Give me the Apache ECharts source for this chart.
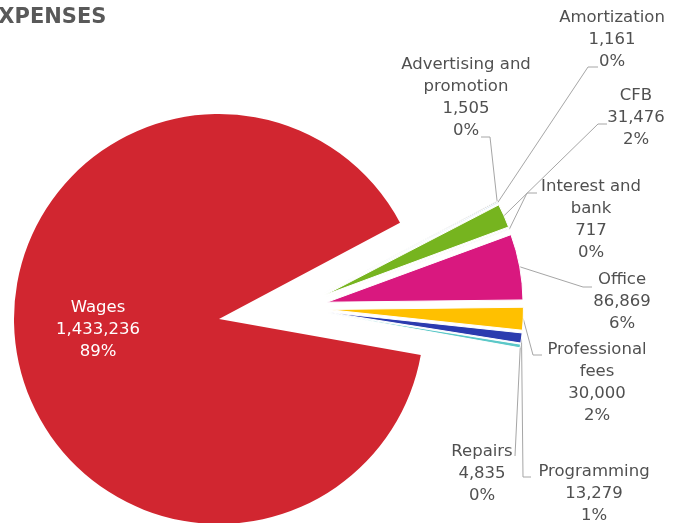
<!DOCTYPE html>
<html>
<head>
<meta charset="utf-8">
<script src="https://cdn.jsdelivr.net/npm/echarts@6/dist/echarts.min.js"></script>
<style>
html,body{margin:0;padding:0;background:#fff;}
#c{width:681px;height:523px;}
</style>
</head>
<body>
<div id="c"></div>
<script>
// ---- data ----
const categories = ['Advertising and promotion','Amortization','CFB','Interest and bank','Office','Professional fees','Programming','Repairs','Wages'];
const values = [1505, 1161, 31476, 717, 86869, 30000, 13279, 4835, 1433236];
const labelNames = ['Advertising and\npromotion','Amortization','CFB','Interest and\nbank','Office','Professional\nfees','Programming','Repairs','Wages'];
const colors = ['#A5A5A5','#5B9BD5','#76B41F','#7F7F7F','#D9187F','#FFC000','#2B3BAF','#5BC8C8','#D12630'];
const titleText = 'EXPENSES';

// ---- layout (label anchor: centre x, top y; leader elbow + end) ----
const labelLayoutCfg = [
  {x:466, y:54,  p1:[490,137], p2:[481,137]},
  {x:612, y:7,   p1:[588,67],  p2:[598,67]},
  {x:636, y:85,  p1:[598,124], p2:[607,124]},
  {x:591, y:176, p1:[527,193], p2:[537,193]},
  {x:622, y:269, p1:[583,287], p2:[592,287]},
  {x:597, y:339, p1:[533,355], p2:[542,355]},
  {x:594, y:461, p1:[523,477], p2:[531,477]},
  {x:482, y:441, p1:[515,456], p2:[515,456]},
  null
];
const WAGES = categories.length - 1;
const FONT = 'DejaVu Sans';
const textColor = '#505050';
const lineColor = '#A6A6A6';
const SMALL_CENTER = [295.5, 308], SMALL_R = 196, EXPLODE = 32;
const CLEAR = 'rgba(0,0,0,0)';

function fmt(p){
  return labelNames[p.dataIndex] + '\n' + Number(p.value).toLocaleString('en-US') + '\n' + p.percent + '%';
}

const wagesData = categories.map((n,i)=>({
  name:n, value:values[i],
  itemStyle:{color: i===WAGES ? colors[i] : CLEAR},
  label:{show: i===WAGES},
  labelLine:{show:false}
}));
const otherData = categories.map((n,i)=>({
  name:n, value:values[i], selected: i!==WAGES,
  itemStyle: i===WAGES ? {color:CLEAR, borderWidth:0} : {color:colors[i], borderColor:'#ffffff', borderWidth:1}
}));
const labelData = categories.map((n,i)=>({
  name:n, value:values[i],
  itemStyle:{color: CLEAR},
  label:{show: i!==WAGES},
  labelLine:{show: i!==WAGES}
}));

const common = {type:'pie', startAngle:28, clockwise:true, percentPrecision:0, avoidLabelOverlap:false, silent:true};

const chart = echarts.init(document.getElementById('c'), null, {renderer:'canvas'});
chart.setOption({
  animation:false,
  backgroundColor:'#ffffff',
  graphic:[{type:'text', x:-16, y:7, z:10, style:{text:titleText, font:'bold 21px "DejaVu Sans"', fill:'#595959'}}],
  series:[
    Object.assign({}, common, {
      name:'wages', center:[219,319], radius:205,
      data:wagesData,
      label:{position:'inside', formatter:fmt, color:'#ffffff', fontFamily:FONT, fontSize:16.5, lineHeight:22, align:'center'},
      labelLayout:function(p){ if(p.dataIndex!==WAGES) return; return {x:98, y:297, align:'center', verticalAlign:'top'}; }
    }),
    Object.assign({}, common, {
      name:'others', center:SMALL_CENTER, radius:SMALL_R,
      selectedMode:'multiple', selectedOffset:EXPLODE,
      label:{show:false}, labelLine:{show:false},
      data:otherData
    }),
    Object.assign({}, common, {
      name:'labels', center:SMALL_CENTER, radius:SMALL_R + EXPLODE,
      data:labelData,
      label:{position:'outside', formatter:fmt, color:textColor, fontFamily:FONT, fontSize:16.5, lineHeight:22, align:'center'},
      labelLine:{show:true, length:10, length2:10, lineStyle:{color:lineColor, width:1}},
      labelLayout:function(p){
        const L = labelLayoutCfg[p.dataIndex];
        if(!L) return;
        const a = (p.labelLinePoints && p.labelLinePoints[0]) || L.p1;
        return {x:L.x, y:L.y, align:'center', verticalAlign:'top', labelLinePoints:[a, L.p1, L.p2]};
      }
    })
  ]
});
</script>
</body>
</html>
